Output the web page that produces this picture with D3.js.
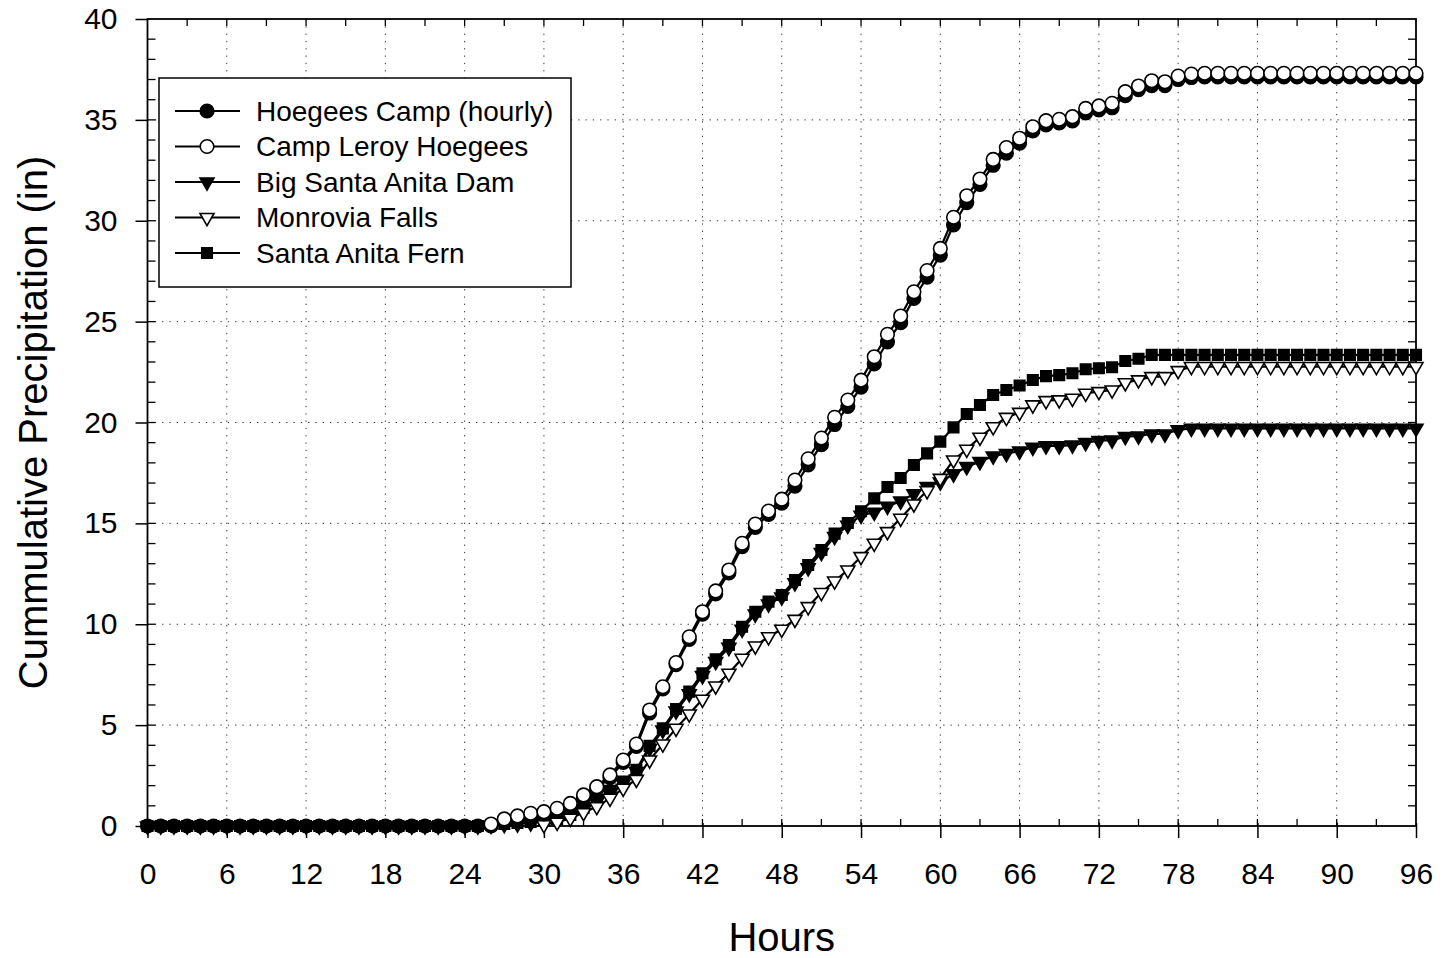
<!DOCTYPE html>
<html>
<head>
<meta charset="utf-8">
<script src="https://cdn.jsdelivr.net/npm/d3@7"></script>
<style>
  body { margin: 0; background: #fff; }
  svg { font-family: "Liberation Sans", Arial, sans-serif; }
</style>
</head>
<body>
<svg id="chart" width="1448" height="958"></svg>
<script>
// hours 0..96, one reading per hour (null = no marker drawn)
const hours = d3.range(0, 97);
const xTicks = [0, 6, 12, 18, 24, 30, 36, 42, 48, 54, 60, 66, 72, 78, 84, 90, 96];
const yTicks = [0, 5, 10, 15, 20, 25, 30, 35, 40];

const seriesNames = ["Hoegees Camp (hourly)", "Camp Leroy Hoegees", "Big Santa Anita Dam", "Monrovia Falls", "Santa Anita Fern"];

const zeros = n => new Array(n).fill(0);
const blanks = n => new Array(n).fill(null);

const hoegeesHourly = zeros(27).concat([
  0.2, 0.35, 0.5, 0.6, 0.75, 1.0, 1.4, 1.85, 2.4, 3.15,      // 27-36
  3.95, 5.6, 6.8, 8.0, 9.25, 10.5, 11.5, 12.55, 13.85, 14.8, // 37-46
  15.45, 16.0, 16.85, 17.9, 18.9, 19.9, 20.8, 21.75, 22.9, 24.0, // 47-56
  24.95, 26.15, 27.2, 28.3, 29.8, 30.9, 31.8, 32.75, 33.35, 33.85, // 57-66
  34.45, 34.75, 34.85, 34.95, 35.35, 35.5, 35.6, 36.2, 36.5, 36.7, // 67-76
  36.7, 37.0, 37.1, 37.13, 37.13, 37.13, 37.13, 37.13, 37.13, 37.13, // 77-86
  37.13, 37.13, 37.13, 37.13, 37.13, 37.13, 37.13, 37.13, 37.13, 37.13 // 87-96
]);

const campLeroy = blanks(26).concat([
  0.1, 0.35, 0.5, 0.63, 0.71, 0.88, 1.12, 1.54, 1.95, 2.53, 3.27, // 26-36
  4.06, 5.75, 6.9, 8.1, 9.38, 10.62, 11.65, 12.69, 14.01, 14.97,  // 37-46
  15.61, 16.2, 17.15, 18.2, 19.23, 20.26, 21.11, 22.1, 23.26, 24.37, // 47-56
  25.28, 26.48, 27.53, 28.63, 30.17, 31.24, 32.07, 33.04, 33.63, 34.09, // 57-66
  34.66, 34.96, 35.03, 35.16, 35.57, 35.69, 35.82, 36.4, 36.68, 36.94, // 67-76
  36.89, 37.17, 37.27, 37.31, 37.31, 37.31, 37.31, 37.31, 37.31, 37.31, // 77-86
  37.31, 37.31, 37.31, 37.31, 37.31, 37.31, 37.31, 37.31, 37.31, 37.31  // 87-96
]);

const bigSantaAnita = zeros(26).concat([
  0.03, 0.07, 0.1, 0.15, 0.2, 0.3, 0.5, 0.8, 1.2, 1.6, 2.1,     // 26-36
  2.7, 3.85, 4.75, 5.7, 6.55, 7.45, 8.15, 8.85, 9.75, 10.5,     // 37-46
  11.0, 11.35, 12.05, 12.8, 13.55, 14.35, 14.9, 15.4, 15.55, 15.85, // 47-56
  16.1, 16.46, 16.82, 17.05, 17.45, 17.81, 18.06, 18.34, 18.46, 18.58, // 57-66
  18.77, 18.84, 18.84, 18.88, 19.0, 19.1, 19.13, 19.3, 19.33, 19.43, // 67-76
  19.43, 19.63, 19.71, 19.71, 19.71, 19.71, 19.71, 19.71, 19.71, 19.71, // 77-86
  19.71, 19.71, 19.71, 19.71, 19.71, 19.71, 19.71, 19.71, 19.71, 19.71  // 87-96
]);

const monroviaFalls = blanks(30).concat([
  0.06, 0.18, 0.38, 0.66, 0.96, 1.37, 1.87,                     // 30-36
  2.31, 3.27, 4.06, 4.84, 5.55, 6.28, 6.94, 7.57, 8.31, 8.92,   // 37-46
  9.38, 9.75, 10.24, 10.87, 11.57, 12.14, 12.69, 13.35, 14.01, 14.59, // 47-56
  15.25, 15.96, 16.62, 17.23, 18.14, 18.67, 19.27, 19.79, 20.25, 20.5, // 57-66
  20.87, 21.08, 21.12, 21.2, 21.45, 21.53, 21.61, 21.97, 22.11, 22.27, // 67-76
  22.27, 22.57, 22.77, 22.77, 22.77, 22.77, 22.77, 22.77, 22.77, 22.77, // 77-86
  22.77, 22.77, 22.77, 22.77, 22.77, 22.77, 22.77, 22.77, 22.77, 22.77  // 87-96
]);

const santaAnitaFern = zeros(26).concat([
  0.05, 0.1, 0.15, 0.2, 0.25, 0.35, 0.55, 0.9, 1.3, 1.75, 2.2,  // 26-36
  2.78, 3.97, 4.84, 5.8, 6.66, 7.57, 8.26, 8.97, 9.88, 10.62,   // 37-46
  11.12, 11.45, 12.19, 12.94, 13.68, 14.49, 15.02, 15.6, 16.24, 16.8, // 47-56
  17.25, 17.89, 18.47, 19.05, 19.76, 20.42, 20.87, 21.36, 21.61, 21.83, // 57-66
  22.11, 22.3, 22.35, 22.44, 22.64, 22.69, 22.74, 23.05, 23.16, 23.35, // 67-76
  23.35, 23.35, 23.35, 23.35, 23.35, 23.35, 23.35, 23.35, 23.35, 23.35, // 77-86
  23.35, 23.35, 23.35, 23.35, 23.35, 23.35, 23.35, 23.35, 23.35, 23.35  // 87-96
]);

const seriesValues = [hoegeesHourly, campLeroy, bigSantaAnita, monroviaFalls, santaAnitaFern];
const seriesMarkers = ["circle", "circle", "triangleDown", "triangleDown", "square"];
const seriesFilled = [true, false, true, false, true];

const margin = { top: 19, right: 32, bottom: 132, left: 147.5 };
const width = 1448 - margin.left - margin.right;
const height = 958 - margin.top - margin.bottom;

const svg = d3.select("#chart");
const g = svg.append("g").attr("transform", `translate(${margin.left},${margin.top})`);

const x = d3.scaleLinear().domain([0, 96]).range([0, width]);
const y = d3.scaleLinear().domain([0, 40]).range([height, 0]);

// dotted grid
g.selectAll("line.vgrid")
  .data(xTicks.filter(t => t > 0 && t < 96))
  .join("line")
  .attr("class", "vgrid")
  .attr("x1", d => x(d)).attr("x2", d => x(d))
  .attr("y1", 0).attr("y2", height)
  .attr("stroke", "#333").attr("stroke-width", 1)
  .attr("stroke-dasharray", "1.3,6");

g.selectAll("line.hgrid")
  .data(yTicks.filter(t => t > 0 && t < 40))
  .join("line")
  .attr("class", "hgrid")
  .attr("x1", 0).attr("x2", width)
  .attr("y1", d => y(d)).attr("y2", d => y(d))
  .attr("stroke", "#333").attr("stroke-width", 1)
  .attr("stroke-dasharray", "1.3,6");

// axes
const xAxis = g.append("g")
  .attr("transform", `translate(0,${height})`)
  .call(d3.axisBottom(x).tickValues(xTicks).tickSize(12).tickPadding(25).tickFormat(d3.format("d")));
const yAxis = g.append("g")
  .call(d3.axisLeft(y).tickValues(yTicks).tickSize(12).tickPadding(18).tickFormat(d3.format("d")));

[xAxis, yAxis].forEach(a => {
  a.select(".domain").remove();
  a.selectAll(".tick line").attr("stroke", "#000").attr("stroke-width", 1.5);
  a.selectAll(".tick text").attr("fill", "#000").style("font-size", "30px")
    .style("font-family", "'Liberation Sans', Arial, sans-serif");
});
xAxis.selectAll(".tick line").attr("y1", -3);

// minor ticks, pointing inwards
const minorX = d3.range(3, 96, 3);
const minorY = d3.range(1, 40, 1);
g.selectAll("line.mxb").data(minorX).join("line").attr("class", "mxb")
  .attr("x1", d => x(d)).attr("x2", d => x(d)).attr("y1", height).attr("y2", height - 7)
  .attr("stroke", "#000").attr("stroke-width", 1.3);
g.selectAll("line.mxt").data(minorX).join("line").attr("class", "mxt")
  .attr("x1", d => x(d)).attr("x2", d => x(d)).attr("y1", 0).attr("y2", 7)
  .attr("stroke", "#000").attr("stroke-width", 1.3);
g.selectAll("line.myl").data(minorY).join("line").attr("class", "myl")
  .attr("x1", 0).attr("x2", 8).attr("y1", d => y(d)).attr("y2", d => y(d))
  .attr("stroke", "#000").attr("stroke-width", 1.3);
g.selectAll("line.myr").data(minorY).join("line").attr("class", "myr")
  .attr("x1", width).attr("x2", width - 8).attr("y1", d => y(d)).attr("y2", d => y(d))
  .attr("stroke", "#000").attr("stroke-width", 1.3);

// frame
g.append("rect")
  .attr("width", width).attr("height", height)
  .attr("fill", "none").attr("stroke", "#000").attr("stroke-width", 1.8);

// axis titles
svg.append("text")
  .attr("x", margin.left + width / 2).attr("y", 951)
  .attr("text-anchor", "middle")
  .style("font-size", "40px")
  .text("Hours");

svg.append("text")
  .attr("transform", `translate(47,${margin.top + height / 2}) rotate(-90)`)
  .attr("text-anchor", "middle")
  .style("font-size", "40px")
  .text("Cummulative Precipitation (in)");

// markers
const symbolType = { circle: d3.symbolCircle, triangleDown: d3.symbolTriangle, square: d3.symbolSquare };
const symbolSize = { circle: 145, triangleDown: 85, square: 110 };
const markerPath = m => d3.symbol(symbolType[m], symbolSize[m])();
const markerRotate = m => m === "triangleDown" ? " rotate(180)" : "";

const line = d3.line()
  .defined(d => d !== null)
  .x((d, i) => x(hours[i]))
  .y(d => y(d));

// draw order: triangles & squares first, circles on top
const drawOrder = [2, 4, 3, 0, 1];
drawOrder.forEach(si => {
  const vals = seriesValues[si];
  const m = seriesMarkers[si];
  const pts = vals.map((v, i) => ({ h: hours[i], v })).filter(p => p.v !== null);
  const sg = g.append("g").attr("class", "series");
  sg.append("path")
    .datum(vals)
    .attr("d", line)
    .attr("fill", "none").attr("stroke", "#000").attr("stroke-width", 2.2);
  sg.selectAll("path.mk")
    .data(pts)
    .join("path")
    .attr("class", "mk")
    .attr("d", markerPath(m))
    .attr("transform", p => `translate(${x(p.h)},${y(p.v)})${markerRotate(m)}`)
    .attr("fill", seriesFilled[si] ? "#000" : "#fff")
    .attr("stroke", "#000").attr("stroke-width", 1.6);
});

// legend
const legend = svg.append("g").attr("transform", "translate(159,78)");
legend.append("rect")
  .attr("width", 412).attr("height", 209)
  .attr("fill", "#fff").attr("stroke", "#000").attr("stroke-width", 1.5);

const rows = legend.selectAll("g.row")
  .data(seriesNames)
  .join("g")
  .attr("class", "row")
  .attr("transform", (d, i) => `translate(0,${33 + i * 35.5})`);

rows.append("line")
  .attr("x1", 16).attr("x2", 81).attr("y1", 0).attr("y2", 0)
  .attr("stroke", "#000").attr("stroke-width", 2);
rows.append("path")
  .attr("d", (d, i) => markerPath(seriesMarkers[i]))
  .attr("transform", (d, i) => `translate(48,0)${markerRotate(seriesMarkers[i])}`)
  .attr("fill", (d, i) => seriesFilled[i] ? "#000" : "#fff")
  .attr("stroke", "#000").attr("stroke-width", 1.6);
rows.append("text")
  .attr("x", 97).attr("y", 0).attr("dy", "0.35em")
  .style("font-size", "28px")
  .text(d => d);
</script>
</body>
</html>
